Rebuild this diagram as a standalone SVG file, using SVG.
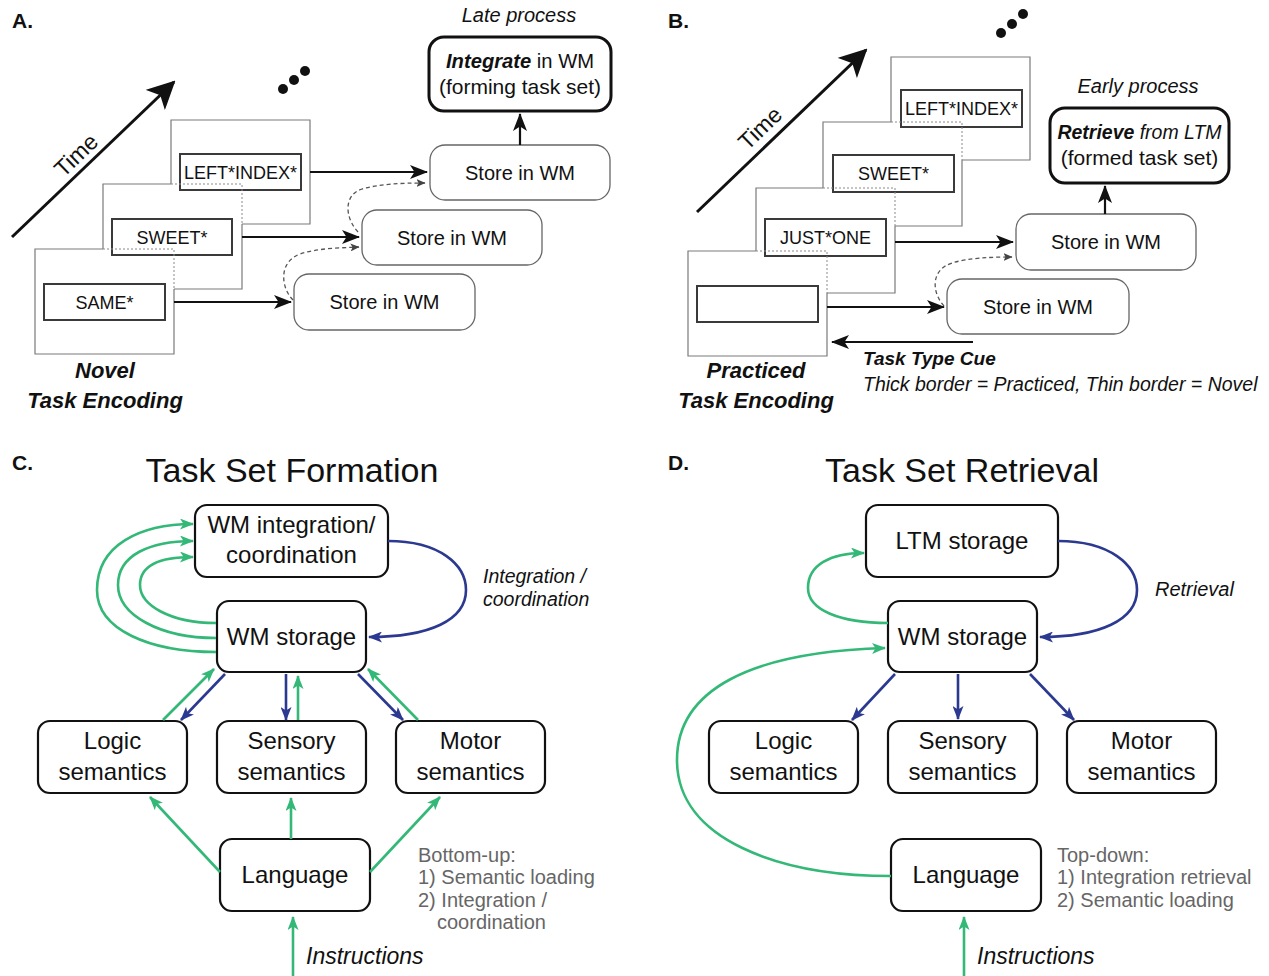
<svg xmlns="http://www.w3.org/2000/svg" width="1269" height="976" viewBox="0 0 1269 976">
<style>
.t{font-family:"Liberation Sans",Arial,sans-serif;fill:#111}
.card{fill:none;stroke:#7a7a7a;stroke-width:1.2}
.hid{fill:none;stroke:#8a8a8a;stroke-width:1;stroke-dasharray:2 2}
.ibox{fill:none;stroke:#3a3a3a;stroke-width:2}
.store{fill:#fff;stroke:#666;stroke-width:1.3}
.thick{fill:#fff;stroke:#111;stroke-width:3}
.node{fill:#fff;stroke:#111;stroke-width:2.2}
.ka{fill:none;stroke:#111;stroke-width:2.2;marker-end:url(#ak)}
.time{fill:none;stroke:#111;stroke-width:3;marker-end:url(#at)}
.dash{fill:none;stroke:#555;stroke-width:1.3;stroke-dasharray:4 3;marker-end:url(#ad)}
.g{fill:none;stroke:#33b877;stroke-width:2.6;marker-end:url(#ag)}
.b{fill:none;stroke:#2b3990;stroke-width:2.6;marker-end:url(#ab)}
.n18{font-size:18px}
.n20{font-size:20px}
.n24{font-size:24px}
.lbl{font-size:21px;font-weight:bold}
.ttl{font-size:34px}
.bi{font-weight:bold;font-style:italic}
.it{font-style:italic}
.gray{fill:#666;font-size:20px}
</style>
<defs>
<marker id="ak" markerUnits="userSpaceOnUse" viewBox="0 0 18 14" refX="17" refY="7" markerWidth="18" markerHeight="14" orient="auto"><path d="M0,0 L18,7 L0,14 L4.5,7 z" fill="#111"/></marker>
<marker id="at" markerUnits="userSpaceOnUse" viewBox="0 0 28 28" refX="26" refY="14" markerWidth="28" markerHeight="28" orient="auto"><path d="M0,0 L28,14 L0,28 L7,14 z" fill="#111"/></marker>
<marker id="ad" markerUnits="userSpaceOnUse" viewBox="0 0 9 8" refX="8.5" refY="4" markerWidth="9" markerHeight="8" orient="auto"><path d="M0,0 L9,4 L0,8 L2,4 z" fill="#444"/></marker>
<marker id="ag" markerUnits="userSpaceOnUse" viewBox="0 0 14 11" refX="13" refY="5.5" markerWidth="14" markerHeight="11" orient="auto"><path d="M0,0 L14,5.5 L0,11 L3.5,5.5 z" fill="#33b877"/></marker>
<marker id="ab" markerUnits="userSpaceOnUse" viewBox="0 0 14 11" refX="13" refY="5.5" markerWidth="14" markerHeight="11" orient="auto"><path d="M0,0 L14,5.5 L0,11 L3.5,5.5 z" fill="#2b3990"/></marker>
</defs>
<rect width="1269" height="976" fill="#fff"/>

<!-- Panel A -->
<g id="panelA">
<text class="t lbl" x="12" y="28">A.</text>
<g id="A-time"><line class="time" x1="12" y1="237" x2="174" y2="82"/><text class="t" font-size="23" transform="translate(76,155) rotate(-44)" text-anchor="middle" dy="8">Time</text></g>
<g id="A-dots" fill="#111"><circle cx="283" cy="89" r="5"/><circle cx="294" cy="80" r="5"/><circle cx="305" cy="71" r="5"/></g>
<g id="A-card3"><path class="card" d="M171,184 V120 H310 V224 H242"/><rect class="ibox" x="180" y="154" width="121" height="36"/><text class="t n18" x="240.5" y="178.5" text-anchor="middle">LEFT*INDEX*</text></g>
<g id="A-card2"><path class="card" d="M171,184 H103 V249 M242,224 V289 H174"/><path class="hid" d="M171,184 H242 V224"/><rect class="ibox" x="112" y="219" width="120" height="36"/><text class="t n18" x="172" y="243.5" text-anchor="middle">SWEET*</text></g>
<g id="A-card1"><path class="card" d="M103,249 H35 V354 H174 V289"/><path class="hid" d="M103,249 H174 V289"/><rect class="ibox" x="44" y="284" width="121" height="36"/><text class="t n18" x="104.5" y="308.5" text-anchor="middle">SAME*</text></g>
<g id="A-store3"><rect class="store" x="430" y="145" width="180" height="55" rx="15"/><text class="t n20" x="520" y="179.5" text-anchor="middle">Store in WM</text></g>
<g id="A-store2"><rect class="store" x="362" y="210" width="180" height="55" rx="15"/><text class="t n20" x="452" y="244.5" text-anchor="middle">Store in WM</text></g>
<g id="A-store1"><rect class="store" x="294" y="274" width="181" height="56" rx="15"/><text class="t n20" x="384.5" y="309" text-anchor="middle">Store in WM</text></g>
<g id="A-integrate"><rect class="thick" x="429" y="37" width="182" height="74" rx="15"/><text class="t" font-size="21" x="520" y="68" text-anchor="middle" textLength="148" lengthAdjust="spacingAndGlyphs"><tspan class="bi">Integrate</tspan> in WM</text><text class="t" font-size="21" x="520" y="94" text-anchor="middle">(forming task set)</text></g>
<text class="t it" font-size="20" x="519" y="22" text-anchor="middle">Late process</text>
<text class="t bi" font-size="22" x="105" y="378" text-anchor="middle">Novel</text>
<text class="t bi" font-size="22" x="105" y="408" text-anchor="middle">Task Encoding</text>
</g>

<!-- Panel B -->
<g id="panelB">
<text class="t lbl" x="668" y="28">B.</text>
<g id="B-time"><line class="time" x1="697" y1="212" x2="866" y2="50"/><text class="t" font-size="23" transform="translate(760,128) rotate(-44)" text-anchor="middle" dy="8">Time</text></g>
<g id="B-dots" fill="#111"><circle cx="1001" cy="33" r="5"/><circle cx="1012" cy="24" r="5"/><circle cx="1023" cy="14" r="5"/></g>
<g id="B-card4"><path class="card" d="M891,122 V57 H1030 V160 H962"/><rect class="ibox" x="901" y="90" width="121" height="37"/><text class="t n18" x="961.5" y="115" text-anchor="middle">LEFT*INDEX*</text></g>
<g id="B-card3"><path class="card" d="M891,122 H823 V188 M962,160 V226 H895"/><path class="hid" d="M891,122 H962 V160"/><rect class="ibox" x="833" y="155" width="121" height="37"/><text class="t n18" x="893.5" y="180" text-anchor="middle">SWEET*</text></g>
<g id="B-card2"><path class="card" d="M823,188 H756 V251 M895,226 V293 H827"/><path class="hid" d="M823,188 H895 V226"/><rect class="ibox" x="765" y="219" width="121" height="37"/><text class="t n18" x="825.5" y="244" text-anchor="middle">JUST*ONE</text></g>
<g id="B-card1"><path class="card" d="M756,251 H688 V356 H827 V293"/><path class="hid" d="M756,251 H827 V293"/><rect class="ibox" x="697" y="286" width="121" height="36"/></g>
<g id="B-store2"><rect class="store" x="1016" y="214" width="180" height="56" rx="15"/><text class="t n20" x="1106" y="249" text-anchor="middle">Store in WM</text></g>
<g id="B-store1"><rect class="store" x="947" y="279" width="182" height="55" rx="15"/><text class="t n20" x="1038" y="313.5" text-anchor="middle">Store in WM</text></g>
<g id="B-retrieve"><rect class="thick" x="1050" y="108" width="179" height="75" rx="15"/><text class="t" font-size="21" x="1139.5" y="139" text-anchor="middle" textLength="164" lengthAdjust="spacingAndGlyphs"><tspan class="bi">Retrieve</tspan><tspan class="it"> from LTM</tspan></text><text class="t" font-size="21" x="1139.5" y="165" text-anchor="middle">(formed task set)</text></g>
<text class="t it" font-size="20" x="1138" y="93" text-anchor="middle">Early process</text>
<text class="t bi" font-size="19" x="863" y="365">Task Type Cue</text>
<text class="t it" font-size="19.5" x="863" y="391">Thick border = Practiced, Thin border = Novel</text>
<text class="t bi" font-size="22" x="756" y="378" text-anchor="middle">Practiced</text>
<text class="t bi" font-size="22" x="756" y="408" text-anchor="middle">Task Encoding</text>
</g>

<!-- Panel C -->
<g id="panelC">
<text class="t lbl" x="12" y="470">C.</text>
<text class="t ttl" x="292" y="482" text-anchor="middle">Task Set Formation</text>
<g id="C-wmint"><rect class="node" x="195" y="505" width="193" height="72" rx="12"/><text class="t n24" x="291.5" y="533" text-anchor="middle">WM integration/</text><text class="t n24" x="291.5" y="563" text-anchor="middle">coordination</text></g>
<g id="C-wmstore"><rect class="node" x="217" y="601" width="149" height="71" rx="12"/><text class="t n24" x="291.5" y="645" text-anchor="middle">WM storage</text></g>
<g id="C-logic"><rect class="node" x="38" y="721" width="149" height="72" rx="12"/><text class="t n24" x="112.5" y="749" text-anchor="middle">Logic</text><text class="t n24" x="112.5" y="780" text-anchor="middle">semantics</text></g>
<g id="C-sensory"><rect class="node" x="217" y="721" width="149" height="72" rx="12"/><text class="t n24" x="291.5" y="749" text-anchor="middle">Sensory</text><text class="t n24" x="291.5" y="780" text-anchor="middle">semantics</text></g>
<g id="C-motor"><rect class="node" x="396" y="721" width="149" height="72" rx="12"/><text class="t n24" x="470.5" y="749" text-anchor="middle">Motor</text><text class="t n24" x="470.5" y="780" text-anchor="middle">semantics</text></g>
<g id="C-language"><rect class="node" x="220" y="839" width="150" height="72" rx="12"/><text class="t n24" x="295" y="883" text-anchor="middle">Language</text></g>
<text class="t it" font-size="19.5" x="483" y="583">Integration /</text>
<text class="t it" font-size="19.5" x="483" y="606">coordination</text>
<text class="t gray" x="418" y="862">Bottom-up:</text>
<text class="t gray" x="418" y="884">1) Semantic loading</text>
<text class="t gray" x="418" y="907">2) Integration /</text>
<text class="t gray" x="437" y="929">coordination</text>
<text class="t it" font-size="23" x="306" y="964">Instructions</text>
</g>

<!-- Panel D -->
<g id="panelD">
<text class="t lbl" x="668" y="470">D.</text>
<text class="t ttl" x="962" y="482" text-anchor="middle">Task Set Retrieval</text>
<g id="D-ltm"><rect class="node" x="866" y="505" width="192" height="72" rx="12"/><text class="t n24" x="962" y="549" text-anchor="middle">LTM storage</text></g>
<g id="D-wmstore"><rect class="node" x="888" y="601" width="149" height="71" rx="12"/><text class="t n24" x="962.5" y="645" text-anchor="middle">WM storage</text></g>
<g id="D-logic"><rect class="node" x="709" y="721" width="149" height="72" rx="12"/><text class="t n24" x="783.5" y="749" text-anchor="middle">Logic</text><text class="t n24" x="783.5" y="780" text-anchor="middle">semantics</text></g>
<g id="D-sensory"><rect class="node" x="888" y="721" width="149" height="72" rx="12"/><text class="t n24" x="962.5" y="749" text-anchor="middle">Sensory</text><text class="t n24" x="962.5" y="780" text-anchor="middle">semantics</text></g>
<g id="D-motor"><rect class="node" x="1067" y="721" width="149" height="72" rx="12"/><text class="t n24" x="1141.5" y="749" text-anchor="middle">Motor</text><text class="t n24" x="1141.5" y="780" text-anchor="middle">semantics</text></g>
<g id="D-language"><rect class="node" x="891" y="839" width="150" height="72" rx="12"/><text class="t n24" x="966" y="883" text-anchor="middle">Language</text></g>
<text class="t it" font-size="20" x="1155" y="596">Retrieval</text>
<text class="t gray" x="1057" y="862">Top-down:</text>
<text class="t gray" x="1057" y="884">1) Integration retrieval</text>
<text class="t gray" x="1057" y="907">2) Semantic loading</text>
<text class="t it" font-size="23" x="977" y="964">Instructions</text>
</g>

<!-- Connectors -->
<g id="connectors">
<line class="ka" x1="310" y1="172" x2="427" y2="172"/>
<line class="ka" x1="242" y1="237" x2="359" y2="237"/>
<line class="ka" x1="174" y1="302" x2="291" y2="302"/>
<line class="ka" x1="520" y1="145" x2="520" y2="114"/>
<path class="dash" d="M293,300 C281,288 278,262 300,254 C318,248 340,248 359,247"/>
<path class="dash" d="M358,232 C345,218 343,195 362,189 C380,184 400,183 425,183"/>
<line class="ka" x1="895" y1="242" x2="1013" y2="242"/>
<line class="ka" x1="827" y1="307" x2="944" y2="307"/>
<line class="ka" x1="1105" y1="214" x2="1105" y2="186"/>
<line class="ka" x1="973" y1="342" x2="832" y2="342"/>
<path class="dash" d="M944,306 C932,293 930,270 952,263 C968,258 990,257 1012,257"/>

<path class="g" d="M216,652 C150,652 97,630 97,590 C97,545 140,524 193,524"/>
<path class="g" d="M216,638 C160,638 118,615 118,585 C118,555 150,541 193,541"/>
<path class="g" d="M216,623 C170,623 140,605 140,585 C140,565 160,557 193,557"/>
<path class="b" d="M388,541 C440,541 466,565 466,590 C466,620 430,637 369,637"/>
<line class="b" x1="225" y1="674" x2="181" y2="720"/>
<line class="g" x1="163" y1="720" x2="214" y2="669"/>
<line class="b" x1="286" y1="674" x2="286" y2="720"/>
<line class="g" x1="298" y1="720" x2="298" y2="676"/>
<line class="b" x1="358" y1="674" x2="403" y2="720"/>
<line class="g" x1="418" y1="720" x2="368" y2="669"/>
<line class="g" x1="220" y1="872" x2="150" y2="797"/>
<line class="g" x1="291" y1="839" x2="291" y2="798"/>
<line class="g" x1="370" y1="872" x2="440" y2="797"/>
<line class="g" x1="293" y1="976" x2="293" y2="917"/>

<path class="g" d="M888,623 C840,623 808,610 808,588 C808,565 830,553 864,553"/>
<path class="b" d="M1058,541 C1110,541 1137,565 1137,590 C1137,620 1100,637 1040,637"/>
<path class="g" d="M891,876 C780,876 677,840 677,760 C677,690 750,652 885,648"/>
<line class="b" x1="895" y1="674" x2="852" y2="720"/>
<line class="b" x1="958" y1="674" x2="958" y2="719"/>
<line class="b" x1="1030" y1="674" x2="1074" y2="720"/>
<line class="g" x1="964" y1="976" x2="964" y2="917"/>
</g>
</svg>
